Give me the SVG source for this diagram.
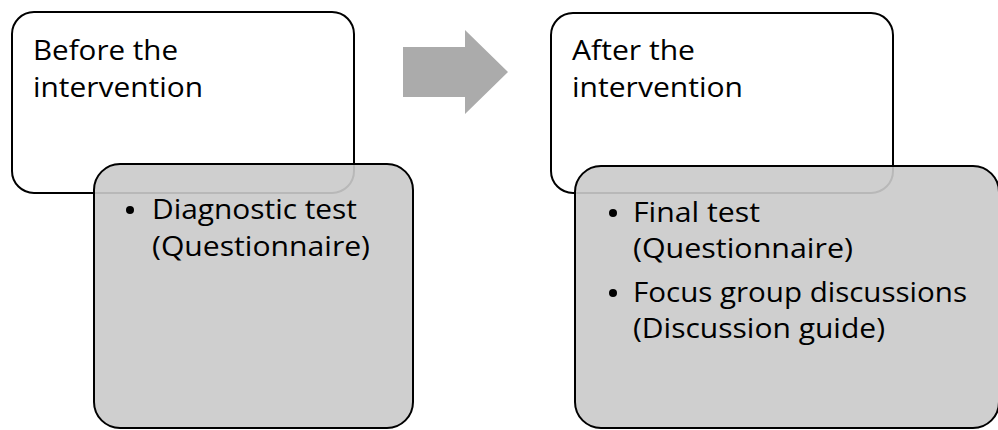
<svg xmlns="http://www.w3.org/2000/svg" width="998" height="430" viewBox="0 0 998 430">
  <style>
    .outer { fill: #ffffff; stroke: #000000; stroke-width: 2; }
    .inner { fill: #cacaca; fill-opacity: 0.91; stroke: #000000; stroke-width: 2; }
    .t { font-family: "Open Sans", "Liberation Sans", sans-serif; font-size: 28px; fill: #000000; }
    .dot { fill: #000000; }
  </style>
  <rect width="998" height="430" fill="#ffffff"/>

  <!-- before stage -->
  <g id="before">
    <rect class="outer" x="12" y="12" width="342" height="181" rx="22"/>
    <text class="t" x="33" y="60" textLength="145" lengthAdjust="spacingAndGlyphs">Before the</text>
    <text class="t" x="33" y="97" textLength="170" lengthAdjust="spacingAndGlyphs">intervention</text>
  </g>
  <g id="before-tools">
    <rect class="inner" x="94" y="164" width="319" height="264" rx="26"/>
    <circle class="dot" cx="130" cy="210" r="4"/>
    <text class="t" x="152" y="219" textLength="205" lengthAdjust="spacingAndGlyphs">Diagnostic test</text>
    <text class="t" x="152" y="256" textLength="218" lengthAdjust="spacingAndGlyphs">(Questionnaire)</text>
  </g>

  <!-- transition arrow -->
  <g id="connectors">
    <polygon points="403,47 465,47 465,30 508,72 465,114 465,97 403,97" fill="#ababab"/>
  </g>

  <!-- after stage -->
  <g id="after">
    <rect class="outer" x="551" y="13" width="342" height="180" rx="22"/>
    <text class="t" x="572" y="60" textLength="123" lengthAdjust="spacingAndGlyphs">After the</text>
    <text class="t" x="572" y="97" textLength="171" lengthAdjust="spacingAndGlyphs">intervention</text>
  </g>
  <g id="after-tools">
    <rect class="inner" x="575" y="166" width="424" height="262" rx="26"/>
    <circle class="dot" cx="613" cy="213" r="4"/>
    <text class="t" x="633" y="222" textLength="127" lengthAdjust="spacingAndGlyphs">Final test</text>
    <text class="t" x="633" y="258" textLength="220" lengthAdjust="spacingAndGlyphs">(Questionnaire)</text>
    <circle class="dot" cx="613" cy="293" r="4"/>
    <text class="t" x="633" y="302" textLength="334" lengthAdjust="spacingAndGlyphs">Focus group discussions</text>
    <text class="t" x="633" y="338" textLength="252" lengthAdjust="spacingAndGlyphs">(Discussion guide)</text>
  </g>
</svg>
